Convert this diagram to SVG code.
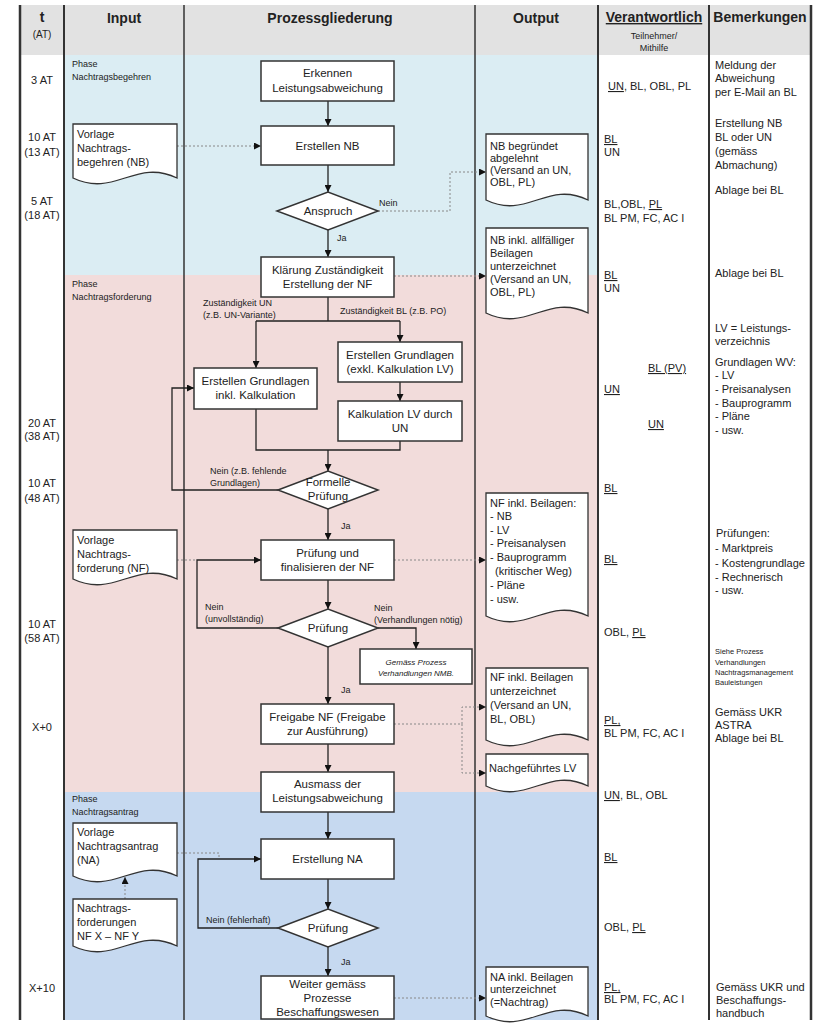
<svg xmlns="http://www.w3.org/2000/svg" width="825" height="1023" viewBox="0 0 825 1023">
<defs>
<marker id="ah" viewBox="0 0 10 10" refX="10" refY="5" markerWidth="7" markerHeight="7" markerUnits="userSpaceOnUse" orient="auto"><path d="M0,0 L10,5 L0,10 z" fill="#111"/></marker>
<style>
text{font-family:"Liberation Sans",Arial,sans-serif;fill:#222;font-size:11px}
.c{text-anchor:middle}
.bx{font-size:11.5px}
.lb{font-size:9px}
.ph{font-size:9px}
.hd{font-size:14px;font-weight:bold}
.sm{font-size:7.5px}
.it{font-size:8px;font-style:italic}
.u{text-decoration:underline}
.box{fill:#fff;stroke:#333;stroke-width:1.5}
.doc{fill:#fff;stroke:#333;stroke-width:1.3}
.col{stroke:#333;fill:none}
.sol{stroke:#222;stroke-width:1.3;fill:none}
.dsh{stroke:#888;stroke-width:1;stroke-dasharray:2,2;fill:none}
</style>
</defs>
<rect width="825" height="1023" fill="#fff"/>
<g id="background">
<rect x="20" y="5" width="792" height="50" fill="#e2e2e2"/>
<rect x="64" y="55" width="534" height="220" fill="#dbedf3"/>
<rect x="64" y="275" width="534" height="517" fill="#f2dcdb"/>
<rect x="64" y="792" width="534" height="228" fill="#c6d9f0"/>
</g>
<g id="columns">
<line class="col" x1="20" y1="5" x2="20" y2="1020" stroke-width="2.5"/>
<line class="col" x1="64" y1="5" x2="64" y2="1020" stroke-width="2"/>
<line class="col" x1="184" y1="5" x2="184" y2="1020" stroke-width="1.5"/>
<line class="col" x1="475" y1="5" x2="475" y2="1020" stroke-width="1.5"/>
<line class="col" x1="598" y1="5" x2="598" y2="1020" stroke-width="2"/>
<line class="col" x1="709" y1="5" x2="709" y2="1020" stroke-width="2"/>
<line class="col" x1="811" y1="5" x2="811" y2="1020" stroke-width="2.5"/>
</g>
<g id="header">
<text class="c hd" x="42" y="22">t</text>
<text class="c" x="42" y="38" style="font-size:10px">(AT)</text>
<text class="c hd" x="124" y="23">Input</text>
<text class="c hd" x="330" y="23">Prozessgliederung</text>
<text class="c hd" x="536" y="23">Output</text>
<text class="c hd u" x="654" y="22">Verantwortlich</text>
<text class="c" x="654" y="39" style="font-size:9px">Teilnehmer/</text>
<text class="c" x="654" y="51" style="font-size:9px">Mithilfe</text>
<text class="c hd" x="760" y="22">Bemerkungen</text>
</g>
<g id="time">
<text class="c" x="42" y="84">3 AT</text>
<text class="c" x="42" y="141">10 AT</text>
<text class="c" x="42" y="156">(13 AT)</text>
<text class="c" x="42" y="205">5 AT</text>
<text class="c" x="42" y="219">(18 AT)</text>
<text class="c" x="42" y="427">20 AT</text>
<text class="c" x="42" y="440">(38 AT)</text>
<text class="c" x="42" y="487">10 AT</text>
<text class="c" x="42" y="502">(48 AT)</text>
<text class="c" x="42" y="628">10 AT</text>
<text class="c" x="42" y="642">(58 AT)</text>
<text class="c" x="42" y="731">X+0</text>
<text class="c" x="42" y="992">X+10</text>
</g>
<g id="phases">
<text class="ph" x="72" y="67">Phase</text>
<text class="ph" x="72" y="80">Nachtragsbegehren</text>
<text class="ph" x="72" y="287">Phase</text>
<text class="ph" x="72" y="300">Nachtragsforderung</text>
<text class="ph" x="72" y="802">Phase</text>
<text class="ph" x="72" y="815">Nachtragsantrag</text>
</g>
<g id="connectors">
<path class="sol" d="M328,101 V126" marker-end="url(#ah)"/>
<path class="sol" d="M328,165 V192" marker-end="url(#ah)"/>
<path class="sol" d="M328,230 V257" marker-end="url(#ah)"/>
<path class="sol" d="M328,297 V321 M256,321 H400"/>
<path class="sol" d="M256,321 V368" marker-end="url(#ah)"/>
<path class="sol" d="M400,321 V342" marker-end="url(#ah)"/>
<path class="sol" d="M400,382 V401" marker-end="url(#ah)"/>
<path class="sol" d="M256,409 V450 H400 V441"/>
<path class="sol" d="M328,450 V471" marker-end="url(#ah)"/>
<path class="sol" d="M278,490 H172 V388 H194" marker-end="url(#ah)"/>
<path class="sol" d="M328,509 V540" marker-end="url(#ah)"/>
<path class="sol" d="M328,580 V609" marker-end="url(#ah)"/>
<path class="sol" d="M278,628 H197 V560 H261" marker-end="url(#ah)"/>
<path class="sol" d="M378,628 H416 V649" marker-end="url(#ah)"/>
<path class="sol" d="M328,647 V704" marker-end="url(#ah)"/>
<path class="sol" d="M328,744 V772" marker-end="url(#ah)"/>
<path class="sol" d="M328,812 V839" marker-end="url(#ah)"/>
<path class="sol" d="M328,879 V909" marker-end="url(#ah)"/>
<path class="sol" d="M278,928 H198 V859 H261" marker-end="url(#ah)"/>
<path class="sol" d="M328,947 V976" marker-end="url(#ah)"/>
<path class="dsh" d="M177,146 H261" marker-end="url(#ah)"/>
<path class="dsh" d="M378,211 H450 V172 H486" marker-end="url(#ah)"/>
<path class="dsh" d="M394,276 H486" marker-end="url(#ah)"/>
<path class="dsh" d="M177,560 H197"/>
<path class="dsh" d="M394,560 H486" marker-end="url(#ah)"/>
<path class="dsh" d="M394,724 H462 V707 H486" marker-end="url(#ah)"/>
<path class="dsh" d="M462,724 V773 H486" marker-end="url(#ah)"/>
<path class="dsh" d="M177,853 H219 V859"/>
<path class="dsh" d="M125,899 V877" marker-end="url(#ah)"/>
<path class="dsh" d="M394,998 H486" marker-end="url(#ah)"/>
<text class="lb" x="379" y="206">Nein</text>
<text class="lb" x="337" y="241">Ja</text>
<text class="lb" x="203" y="306">Zuständigkeit UN</text>
<text class="lb" x="203" y="318">(z.B. UN-Variante)</text>
<text class="lb" x="340" y="314">Zuständigkeit BL (z.B. PO)</text>
<text class="lb" x="210" y="474">Nein (z.B. fehlende</text>
<text class="lb" x="210" y="486">Grundlagen)</text>
<text class="lb" x="341" y="529">Ja</text>
<text class="lb" x="205" y="610">Nein</text>
<text class="lb" x="205" y="622">(unvollständig)</text>
<text class="lb" x="374" y="611">Nein</text>
<text class="lb" x="374" y="623">(Verhandlungen nötig)</text>
<text class="lb" x="341" y="693">Ja</text>
<text class="lb" x="206" y="923">Nein (fehlerhaft)</text>
<text class="lb" x="341" y="965">Ja</text>
</g>
<g id="n-erkennen"><rect class="box" x="261" y="61" width="133" height="40"/><text class="c bx" x="327.5" y="77">Erkennen</text><text class="c bx" x="327.5" y="92">Leistungsabweichung</text></g>
<g id="n-erstellen-nb"><rect class="box" x="261" y="126" width="133" height="39"/><text class="c bx" x="327.5" y="150">Erstellen NB</text></g>
<g id="n-anspruch"><polygon class="box" points="277,211 328,192 378,211 328,230"/><text class="c bx" x="328" y="215">Anspruch</text></g>
<g id="n-klaerung"><rect class="box" x="261" y="257" width="133" height="40"/><text class="c bx" x="327.5" y="274">Klärung Zuständigkeit</text><text class="c bx" x="327.5" y="288">Erstellung der NF</text></g>
<g id="n-grundlagen-inkl"><rect class="box" x="194" y="368" width="123" height="41"/><text class="c bx" x="255.5" y="385">Erstellen Grundlagen</text><text class="c bx" x="255.5" y="399">inkl. Kalkulation</text></g>
<g id="n-grundlagen-exkl"><rect class="box" x="338" y="342" width="124" height="40"/><text class="c bx" x="400" y="359">Erstellen Grundlagen</text><text class="c bx" x="400" y="373">(exkl. Kalkulation LV)</text></g>
<g id="n-kalkulation"><rect class="box" x="338" y="401" width="124" height="40"/><text class="c bx" x="400" y="418">Kalkulation LV durch</text><text class="c bx" x="400" y="432">UN</text></g>
<g id="n-formelle"><polygon class="box" points="278,490 328,471 378,490 328,509"/><text class="c bx" x="328" y="486">Formelle</text><text class="c bx" x="328" y="500">Prüfung</text></g>
<g id="n-pruefung-final"><rect class="box" x="261" y="540" width="133" height="40"/><text class="c bx" x="327.5" y="557">Prüfung und</text><text class="c bx" x="327.5" y="571">finalisieren der NF</text></g>
<g id="n-pruefung-1"><polygon class="box" points="278,628 328,609 378,628 328,647"/><text class="c bx" x="328" y="632">Prüfung</text></g>
<g id="n-verhandlungen"><rect class="box" x="360" y="649" width="112" height="35"/><text class="c it" x="416" y="665">Gemäss Prozess</text><text class="c it" x="416" y="676">Verhandlungen NMB.</text></g>
<g id="n-freigabe"><rect class="box" x="261" y="704" width="133" height="40"/><text class="c bx" x="327.5" y="721">Freigabe NF (Freigabe</text><text class="c bx" x="327.5" y="735">zur Ausführung)</text></g>
<g id="n-ausmass"><rect class="box" x="261" y="772" width="133" height="40"/><text class="c bx" x="327.5" y="788">Ausmass der</text><text class="c bx" x="327.5" y="802">Leistungsabweichung</text></g>
<g id="n-erstellung-na"><rect class="box" x="261" y="839" width="133" height="40"/><text class="c bx" x="327.5" y="863">Erstellung NA</text></g>
<g id="n-pruefung-2"><polygon class="box" points="278,928 328,909 378,928 328,947"/><text class="c bx" x="328" y="932">Prüfung</text></g>
<g id="n-weiter"><rect class="box" x="261" y="976" width="133" height="43"/><text class="c bx" x="327.5" y="988">Weiter gemäss</text><text class="c bx" x="327.5" y="1002">Prozesse</text><text class="c bx" x="327.5" y="1016">Beschaffungswesen</text></g>
<g id="in-vorlage-nb"><path class="doc" d="M73,124 H177 V178 C135.4,158 114.6,198 73,178 Z"/><text x="77" y="138">Vorlage</text><text x="77" y="152">Nachtrags-</text><text x="77" y="166">begehren (NB)</text></g>
<g id="in-vorlage-nf"><path class="doc" d="M73,530 H177 V579 C135.4,559 114.6,599 73,579 Z"/><text x="77" y="544">Vorlage</text><text x="77" y="558">Nachtrags-</text><text x="77" y="572">forderung (NF)</text></g>
<g id="in-vorlage-na"><path class="doc" d="M73,823 H177 V876 C135.4,856 114.6,896 73,876 Z"/><text x="77" y="836">Vorlage</text><text x="77" y="850">Nachtragsantrag</text><text x="77" y="864">(NA)</text></g>
<g id="in-nachtragsforderungen"><path class="doc" d="M73,899 H177 V946 C135.4,926 114.6,966 73,946 Z"/><text x="77" y="912">Nachtrags-</text><text x="77" y="926">forderungen</text><text x="77" y="940">NF X – NF Y</text></g>
<g id="out-nb-abgelehnt"><path class="doc" d="M486,134 H588 V200 C547.2,180 526.8,220 486,200 Z"/><text x="490" y="150">NB begründet</text><text x="490" y="162">abgelehnt</text><text x="490" y="174">(Versand an UN,</text><text x="490" y="186">OBL, PL)</text></g>
<g id="out-nb-unterzeichnet"><path class="doc" d="M486,228 H588 V313 C547.2,293 526.8,333 486,313 Z"/><text x="490" y="244">NB inkl. allfälliger</text><text x="490" y="257">Beilagen</text><text x="490" y="270">unterzeichnet</text><text x="490" y="283">(Versand an UN,</text><text x="490" y="296">OBL, PL)</text></g>
<g id="out-nf-beilagen"><path class="doc" d="M486,493 H588 V616 C547.2,596 526.8,636 486,616 Z"/><text x="490" y="507">NF inkl. Beilagen:</text><text x="490" y="520">- NB</text><text x="490" y="534">- LV</text><text x="490" y="547">- Preisanalysen</text><text x="490" y="561">- Bauprogramm</text><text x="495" y="575">(kritischer Weg)</text><text x="490" y="589">- Pläne</text><text x="490" y="603">- usw.</text></g>
<g id="out-nf-unterzeichnet"><path class="doc" d="M486,668 H588 V740 C547.2,720 526.8,760 486,740 Z"/><text x="490" y="681">NF inkl. Beilagen</text><text x="490" y="695">unterzeichnet</text><text x="490" y="709">(Versand an UN,</text><text x="490" y="723">BL, OBL)</text></g>
<g id="out-lv"><path class="doc" d="M486,754 H588 V786 C547.2,766 526.8,806 486,786 Z"/><text x="489" y="772">Nachgeführtes LV</text></g>
<g id="out-na"><path class="doc" d="M486,967 H588 V1016 C547.2,996 526.8,1036 486,1016 Z"/><text x="490" y="981">NA inkl. Beilagen</text><text x="490" y="993">unterzeichnet</text><text x="490" y="1006">(=Nachtrag)</text></g>
<g id="verantwortlich">
<text x="608" y="90"><tspan class="u">UN</tspan>, BL, OBL, PL</text>
<text x="604" y="143" class="u">BL</text>
<text x="604" y="156">UN</text>
<text x="604" y="208">BL,OBL, <tspan class="u">PL</tspan></text>
<text x="604" y="222">BL PM, FC, AC I</text>
<text x="604" y="279" class="u">BL</text>
<text x="604" y="292">UN</text>
<text x="648" y="372" class="u">BL (PV)</text>
<text x="604" y="393" class="u">UN</text>
<text x="648" y="428" class="u">UN</text>
<text x="604" y="492" class="u">BL</text>
<text x="604" y="563" class="u">BL</text>
<text x="604" y="636">OBL, <tspan class="u">PL</tspan></text>
<text x="604" y="724" class="u">PL,</text>
<text x="604" y="737">BL PM, FC, AC I</text>
<text x="604" y="799"><tspan class="u">UN</tspan>, BL, OBL</text>
<text x="604" y="861" class="u">BL</text>
<text x="604" y="931">OBL, <tspan class="u">PL</tspan></text>
<text x="604" y="991" class="u">PL,</text>
<text x="604" y="1003">BL PM, FC, AC I</text>
</g>
<g id="bemerkungen">
<text x="715" y="69">Meldung der</text>
<text x="715" y="82">Abweichung</text>
<text x="715" y="96">per E-Mail an BL</text>
<text x="715" y="127">Erstellung NB</text>
<text x="715" y="141">BL oder UN</text>
<text x="715" y="155">(gemäss</text>
<text x="715" y="169">Abmachung)</text>
<text x="715" y="194">Ablage bei BL</text>
<text x="715" y="277">Ablage bei BL</text>
<text x="715" y="332">LV = Leistungs-</text>
<text x="715" y="345">verzeichnis</text>
<text x="715" y="366">Grundlagen WV:</text>
<text x="715" y="379">- LV</text>
<text x="715" y="393">- Preisanalysen</text>
<text x="715" y="407">- Bauprogramm</text>
<text x="715" y="420">- Pläne</text>
<text x="715" y="434">- usw.</text>
<text x="716" y="537">Prüfungen:</text>
<text x="715" y="552">- Marktpreis</text>
<text x="715" y="567">- Kostengrundlage</text>
<text x="715" y="581">- Rechnerisch</text>
<text x="715" y="594">- usw.</text>
<text class="sm" x="715" y="654">Siehe Prozess</text>
<text class="sm" x="715" y="665">Verhandlungen</text>
<text class="sm" x="715" y="675">Nachtragsmanagement</text>
<text class="sm" x="715" y="685">Bauleistungen</text>
<text x="715" y="716">Gemäss UKR</text>
<text x="715" y="729">ASTRA</text>
<text x="715" y="742">Ablage bei BL</text>
<text x="716" y="991">Gemäss UKR und</text>
<text x="716" y="1004">Beschaffungs-</text>
<text x="716" y="1017">handbuch</text>
</g>
</svg>
